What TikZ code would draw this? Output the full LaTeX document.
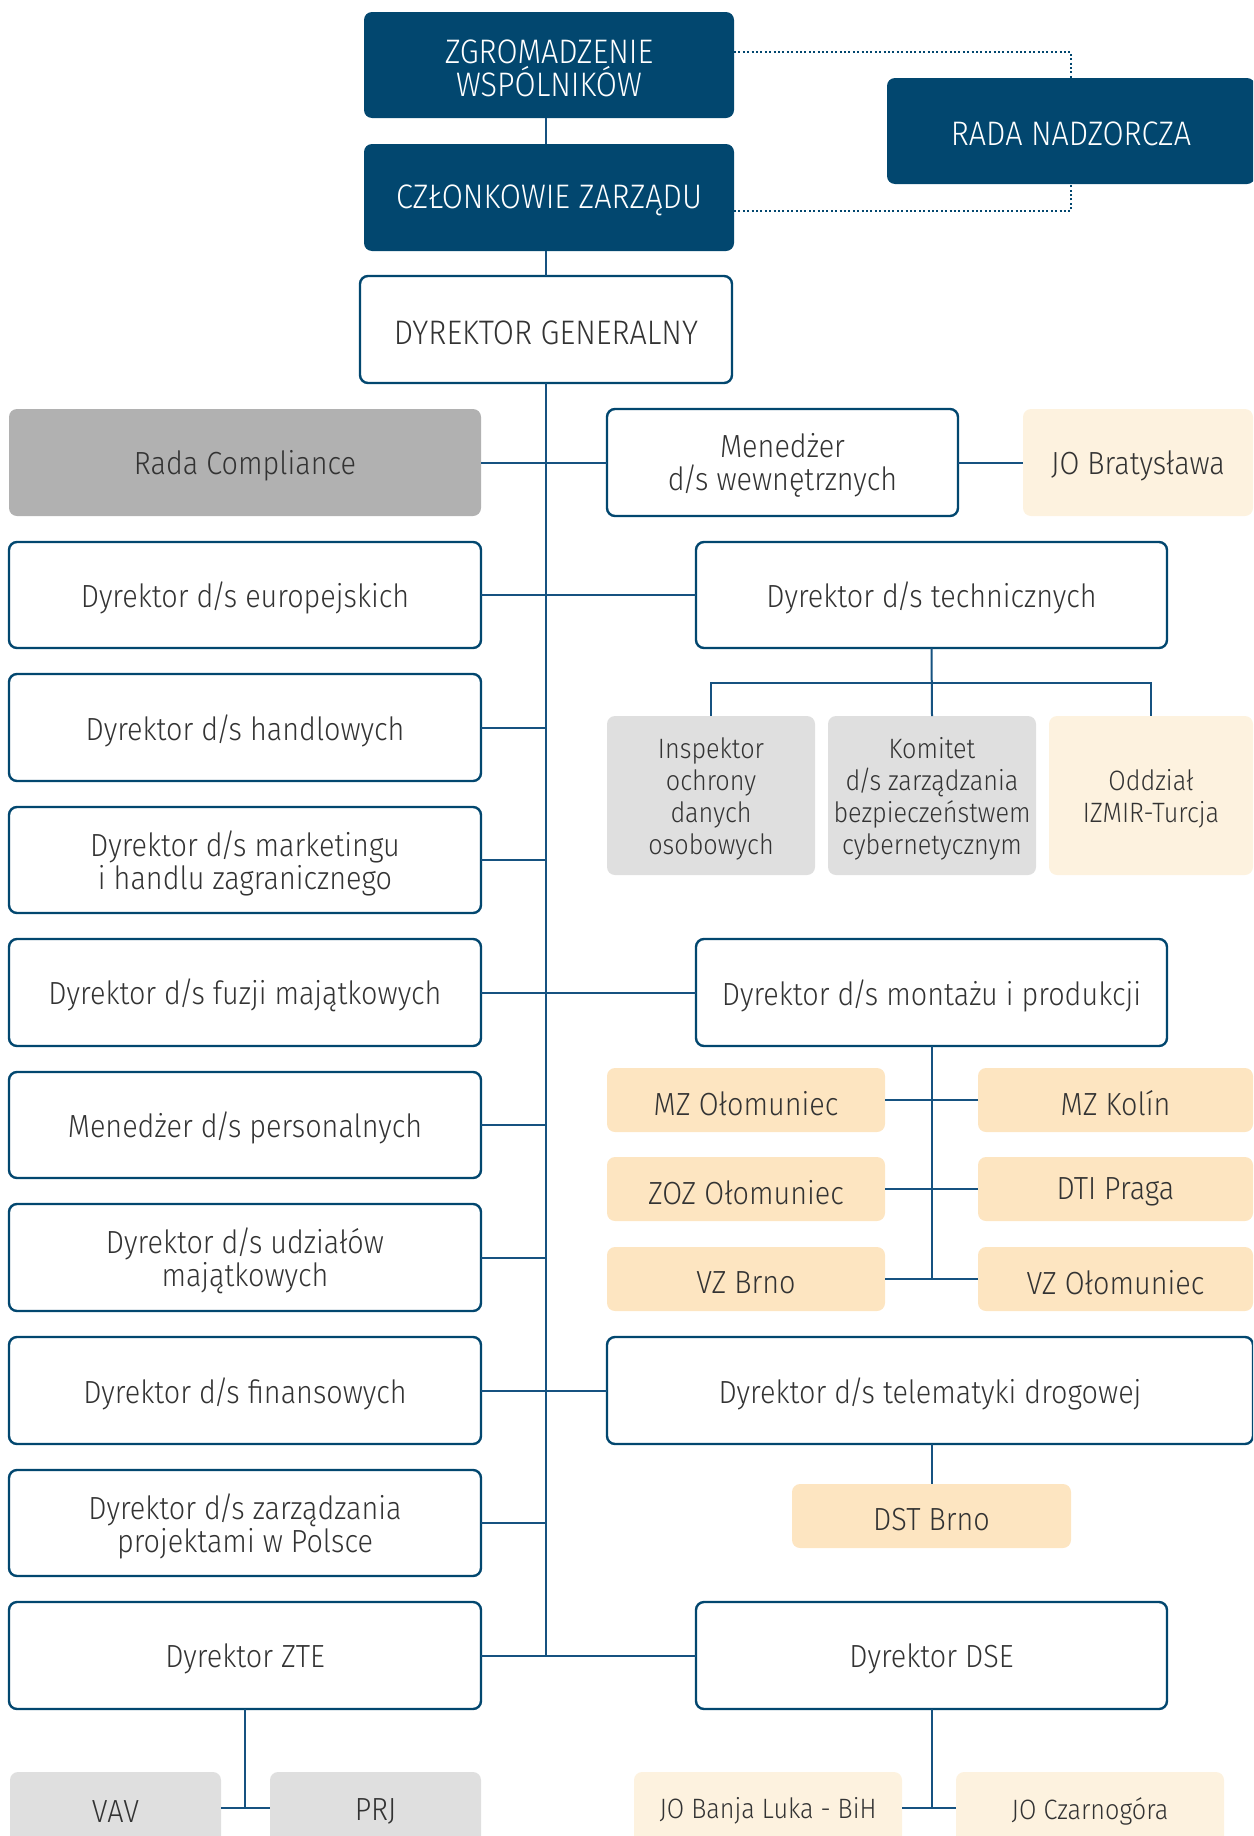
\documentclass[tikz,border=0pt]{standalone}
\usepackage{fontspec}
\setmainfont{Fira Sans}[UprightFont=* Light, FakeStretch=0.9]
\definecolor{navy}{RGB}{2,71,111}
\definecolor{lc}{RGB}{22,82,128}
\definecolor{txt}{RGB}{51,51,51}
\definecolor{peach}{RGB}{253,229,193}
\definecolor{cream}{RGB}{253,242,223}
\definecolor{lgray}{RGB}{223,223,223}
\definecolor{dgray}{RGB}{177,177,177}
\newcommand\fsm{\fontsize{16pt}{16.5pt}\selectfont}
\newcommand\fsu{\fontsize{17pt}{16.5pt}\selectfont}
\newcommand\fss{\fontsize{14pt}{16pt}\selectfont}
\newcommand\ds{d\kern-0.07em/\kern-0.07em s}
\newcommand\bx[7]{%
 \pgfmathsetmacro\cx{(#3+#5)/2}\pgfmathsetmacro\cy{(#4+#6)/2}%
 \pgfmathsetmacro\ww{(#5-#3)*0.5}\pgfmathsetmacro\hh{(#6-#4)*0.5}%
 \node[#2, minimum width=\ww pt, minimum height=\hh pt] (#1) at (\cx,\cy) {};
 \node[#2, draw=none, fill=none, yshift=-1.6pt] at (#1.center) {#7};}
\tikzset{
 base/.style={rounded corners=4pt, inner sep=2pt, outer sep=0pt, align=center, text=txt, font=\fsm},
 darkbox/.style={base, fill=navy, text=white, font=\fsu},
 wbox/.style={base, draw=navy, line width=1.2pt, fill=white},
 graybox/.style={base, fill=dgray},
 lgbox/.style={base, fill=lgray},
 peachbox/.style={base, fill=peach},
 creambox/.style={base, fill=cream},
 conn/.style={draw=lc, line width=1pt},
 dotline/.style={draw=navy, line width=1pt, dash pattern=on 1pt off 1.2pt},
}
\begin{document}
\begin{tikzpicture}[x=0.5pt,y=-0.5pt]
\useasboundingbox (0,0) rectangle (1253,1836);
\clip (0,0) rectangle (1253,1836);
% top
\bx{zg}{darkbox}{364}{12}{734}{118}{ZGROMADZENIE\\WSPÓLNIKÓW}
\bx{rn}{darkbox}{887}{78}{1255}{184}{RADA NADZORCZA}
\bx{cz}{darkbox}{364}{144}{734}{251}{CZŁONKOWIE ZARZĄDU}
\bx{dg}{wbox,font=\fsu}{360}{276}{732}{383}{DYREKTOR GENERALNY}
% left column
\bx{rc}{graybox}{9}{409}{481}{516}{Rada Compliance}
\bx{l1}{wbox}{9}{542}{481}{648}{Dyrektor \ds{} europejskich}
\bx{l2}{wbox}{9}{674}{481}{781}{Dyrektor \ds{} handlowych}
\bx{l3}{wbox}{9}{807}{481}{913}{Dyrektor \ds{} marketingu\\i handlu zagranicznego}
\bx{l4}{wbox}{9}{939}{481}{1046}{Dyrektor \ds{} fuzji majątkowych}
\bx{l5}{wbox}{9}{1072}{481}{1178}{Menedżer \ds{} personalnych}
\bx{l6}{wbox}{9}{1204}{481}{1311}{Dyrektor \ds{} udziałów\\majątkowych}
\bx{l7}{wbox}{9}{1337}{481}{1444}{Dyrektor \ds{} finansowych}
\bx{l8}{wbox}{9}{1470}{481}{1576}{Dyrektor \ds{} zarządzania\\projektami w Polsce}
\bx{l9}{wbox}{9}{1602}{481}{1709}{Dyrektor ZTE}
% right column
\bx{mw}{wbox}{607}{409}{958}{516}{Menedżer\\\ds{} wewnętrznych}
\bx{jb}{creambox}{1023}{409}{1253}{516}{JO Bratysława}
\bx{tech}{wbox}{696}{542}{1167}{648}{Dyrektor \ds{} technicznych}
\bx{ins}{lgbox,font=\fss}{607}{716}{815}{875}{Inspektor\\ochrony\\danych\\osobowych}
\bx{kom}{lgbox,font=\fss}{828}{716}{1036}{875}{Komitet\\\ds{} zarządzania\\bezpieczeństwem\\cybernetycznym}
\bx{odd}{creambox,font=\fss}{1049}{716}{1253}{875}{Oddział\\IZMIR-Turcja}
\bx{mont}{wbox}{696}{939}{1167}{1046}{Dyrektor \ds{} montażu i produkcji}
\bx{mz1}{peachbox}{607}{1068}{885}{1132}{MZ Ołomuniec}
\bx{mz2}{peachbox}{978}{1068}{1253}{1132}{MZ Kolín}
\bx{zoz}{peachbox}{607}{1157}{885}{1221}{ZOZ Ołomuniec}
\bx{dti}{peachbox}{978}{1157}{1253}{1221}{DTI Praga}
\bx{vzb}{peachbox}{607}{1247}{885}{1311}{VZ Brno}
\bx{vzo}{peachbox}{978}{1247}{1253}{1311}{VZ Ołomuniec}
\bx{tel}{wbox}{607}{1337}{1253}{1444}{Dyrektor \ds{} telematyki drogowej}
\bx{dst}{peachbox}{792}{1484}{1071}{1548}{DST Brno}
\bx{dse}{wbox}{696}{1602}{1167}{1709}{Dyrektor DSE}
% bottom row
\bx{vav}{lgbox}{10}{1772}{221}{1844}{VAV}
\bx{prj}{lgbox}{270}{1772}{481}{1844}{PRJ}
\bx{jbl}{creambox,font=\fss}{634}{1772}{902}{1844}{JO Banja Luka - BiH}
\bx{jcz}{creambox,font=\fss}{956}{1772}{1224}{1844}{JO Czarnogóra}
% connectors
\coordinate (T) at (546,0);
\coordinate (d1) at (0,52);
\coordinate (d2) at (0,211);
\coordinate (tb) at (0,683);
\draw[dotline] (zg.east |- d1) -| (rn.north);
\draw[dotline] (cz.east |- d2) -| (rn.south);
\draw[conn] (zg.south -| T) -- (cz.north -| T);
\draw[conn] (cz.south -| T) -- (dg.north -| T);
\draw[conn] (dg.south -| T) -- (l9.east -| T);
\draw[conn] (rc.east) -- (mw.west);
\draw[conn] (mw.east) -- (jb.west);
\draw[conn] (l1.east) -- (tech.west);
\draw[conn] (l2.east) -- (l2.east -| T);
\draw[conn] (l3.east) -- (l3.east -| T);
\draw[conn] (l4.east) -- (mont.west);
\draw[conn] (l5.east) -- (l5.east -| T);
\draw[conn] (l6.east) -- (l6.east -| T);
\draw[conn] (l7.east) -- (tel.west);
\draw[conn] (l8.east) -- (l8.east -| T);
\draw[conn] (l9.east) -- (dse.west);
\draw[conn] (tech.south) -- (kom.north);
\draw[conn] (ins.north) -- (ins.north |- tb) -- (odd.north |- tb) -- (odd.north);
\draw[conn] (mont.south) -- (mont.south |- vzb.east);
\draw[conn] (mz1.east) -- (mz2.west);
\draw[conn] (zoz.east) -- (dti.west);
\draw[conn] (vzb.east) -- (vzo.west);
\draw[conn] (dst.north |- tel.south) -- (dst.north);
\draw[conn] (l9.south) -- (l9.south |- vav.east);
\draw[conn] (vav.east) -- (prj.west);
\draw[conn] (dse.south) -- (dse.south |- jbl.east);
\draw[conn] (jbl.east) -- (jcz.west);
\end{tikzpicture}
\end{document}
